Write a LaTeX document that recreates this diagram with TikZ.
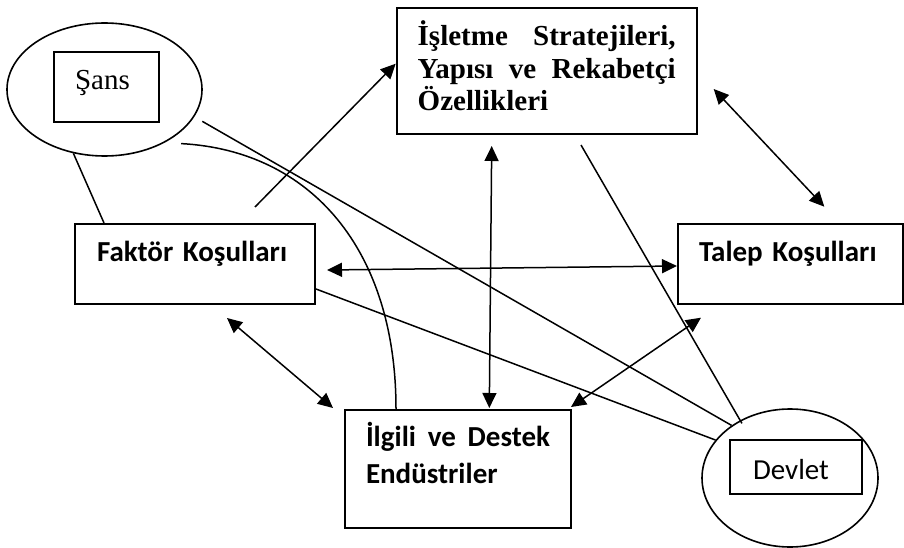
\documentclass[tikz,border=0pt]{standalone}
\usepackage{fontspec}
\setmainfont{Carlito}
\newfontfamily\timesfont{Liberation Serif}
\usetikzlibrary{shapes.geometric,arrows.meta,positioning}
\def\yazi{\fontsize{29pt}{35pt}\selectfont}

\begin{document}
\begin{tikzpicture}[x=1pt,y=-1pt,
    kutu/.style={draw,line width=2pt,inner ysep=0pt,anchor=north west,align=left,font=\yazi},
    halka/.style={draw,ellipse,line width=1.6pt,inner sep=0pt},
    cizgi/.style={line width=1.5pt},
    >={Triangle[length=15pt,width=14pt]}]
    \useasboundingbox (0,0) rectangle (904,548);
    % ellipses
    \node[halka,minimum width=195pt,minimum height=133pt] (sans) at (104.5,89.5) {};
    \node[halka,minimum width=176pt,minimum height=138pt] (devlet) at (790,478) {};
    % boxes
    \node[kutu,font={\timesfont\yazi},inner xsep=21pt,text width=63pt,text height=38pt,text depth=32pt] (sanskutu) at (53,51) {Şans};
    \node[kutu,font={\timesfont\bfseries\fontsize{29pt}{32.5pt}\selectfont},align=justify,inner xsep=21pt,text width=258pt,text height=38.3pt,text depth=87.7pt] (isletme) at (395.7,6.7) {İşletme Stratejileri,\linebreak Yapısı ve Rekabetçi\linebreak Özellikleri};
    \node[kutu,font={\bfseries\yazi},inner xsep=22pt,text width=196pt,text height=37pt,text depth=43pt] (faktor) at (74,223) {Faktör Koşulları};
    \node[kutu,font={\bfseries\yazi},inner xsep=21pt,text width=183pt,text height=37pt,text depth=43pt] (talep) at (677,223) {Talep Koşulları};
    \node[kutu,font={\bfseries\fontsize{29pt}{37pt}\selectfont},align=justify,inner xsep=21pt,text width=184pt,text height=36pt,text depth=82pt] (ilgili) at (344,409) {İlgili ve Destek\linebreak Endüstriler};
    \node[kutu,inner xsep=23pt,text width=86pt,text height=39pt,text depth=15pt] (devletkutu) at (729,439) {Devlet};
    % connectors
    \path[cizgi] (sans.244) edge ([xshift=30pt]faktor.north west);
    \path[cizgi,->] ([xshift=181pt,yshift=16pt]faktor.north west) edge ([yshift=-57pt]isletme.north west);
    \path[cizgi] ([xshift=9pt,yshift=-3pt]sans.-18) edge (devlet.138);
    \draw[cizgi] ([shift={(8pt,-6pt)}]sans.-35) .. controls +(130,7) and +(0,-159) .. ([xshift=52pt]ilgili.north west);
    \path[cizgi,<->] ([shift={(11pt,-47pt)}]faktor.north east) edge ([yshift=-43pt]talep.north west);
    \path[cizgi] ([yshift=-66pt]faktor.north east) edge (devlet.153);
    \path[cizgi,<->] ([shift={(153pt,-13pt)}]faktor.south west) edge ([shift={(-11pt,1pt)}]ilgili.north west);
    \path[cizgi,<->] ([shift={(96pt,-11.3pt)}]isletme.south west) edge ([shift={(145.3pt,1pt)}]ilgili.north west);
    \path[cizgi] ([shift={(185.3pt,-10.3pt)}]isletme.south west) edge ([shift={(2pt,-3pt)}]devlet.131);
    \path[cizgi,<->] ([shift={(16pt,-82.3pt)}]isletme.north east) edge ([shift={(147.3pt,16.3pt)}]talep.north west);
    \path[cizgi,<->] ([shift={(-1pt,2pt)}]ilgili.north east) edge ([shift={(24pt,-12.7pt)}]talep.south west);
\end{tikzpicture}
\end{document}
